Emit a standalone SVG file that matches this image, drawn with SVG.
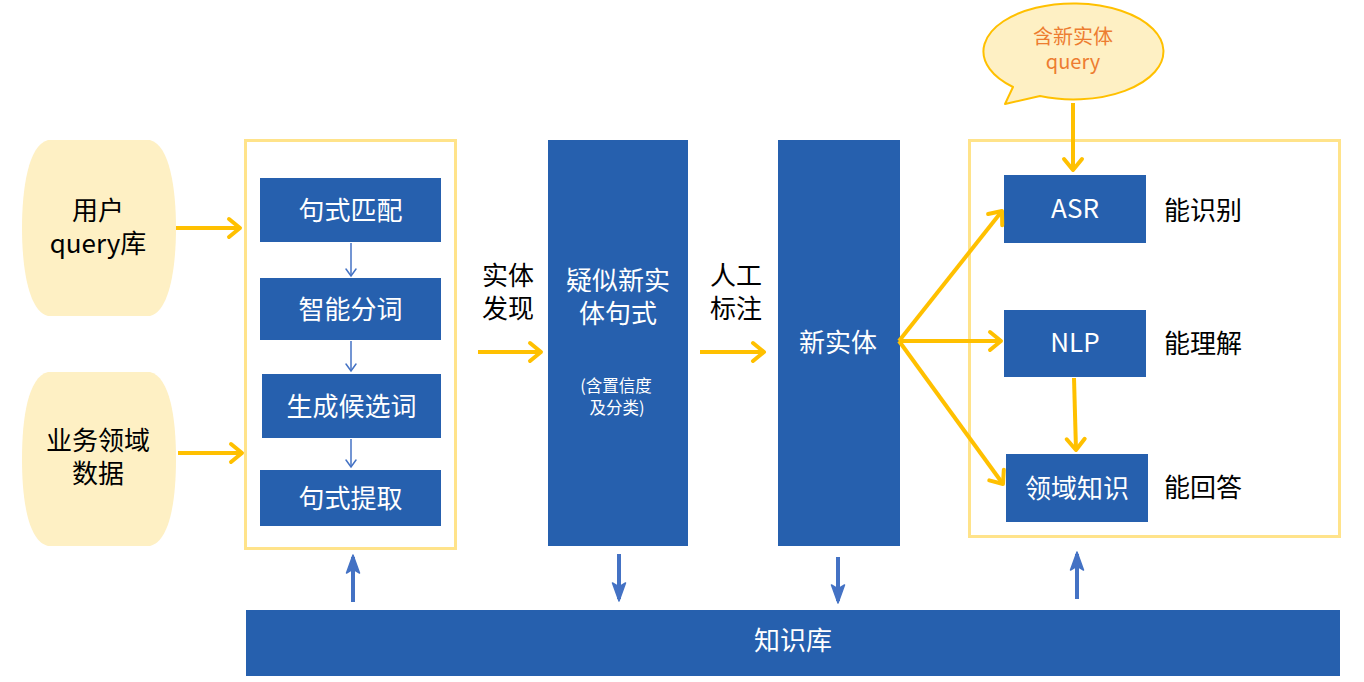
<svg xmlns="http://www.w3.org/2000/svg" width="1364" height="682" viewBox="0 0 1364 682">
<style>
text{font-family:"Noto Sans CJK SC","Noto Sans",sans-serif;text-anchor:middle;}
.blk{fill:#000;font-size:26px;}
.wt{fill:#fff;font-size:26px;}
.sm{fill:#fff;font-size:16.5px;}
.org{fill:#ED7D31;font-size:20px;}
.blue{fill:#2660AE;}
.cyl{fill:#FEF0C4;}
.frame{fill:#fff;stroke:#FFE38A;stroke-width:3;}
.ya{stroke:#FFC000;stroke-width:4;fill:none;marker-end:url(#yh);}
.ba{stroke:#4472C4;stroke-width:1.5;fill:none;marker-end:url(#bh);}
.bb{stroke:#4472C4;stroke-width:4;fill:none;marker-end:url(#bbh);}
</style>
<defs>
<marker id="yh" markerUnits="userSpaceOnUse" viewBox="-14 -12 18 24" markerWidth="18" markerHeight="24" refX="0" refY="0" orient="auto" overflow="visible">
<path d="M-11,-9 L0,0 L-11,9" fill="none" stroke="#FFC000" stroke-width="4" stroke-linecap="round" stroke-linejoin="round"/>
</marker>
<marker id="bh" markerUnits="userSpaceOnUse" viewBox="-10 -8 12 16" markerWidth="12" markerHeight="16" refX="0" refY="0" orient="auto" overflow="visible">
<path d="M-7,-5 L0,0 L-7,5" fill="none" stroke="#4472C4" stroke-width="1.5" stroke-linecap="round"/>
</marker>
<marker id="bbh" markerUnits="userSpaceOnUse" viewBox="-20 -9 24 18" markerWidth="24" markerHeight="18" refX="0" refY="0" orient="auto" overflow="visible">
<path d="M2,0 L-16,-6.5 L-12,0 L-16,6.5 Z" fill="#4472C4" stroke="#4472C4" stroke-width="1.5" stroke-linejoin="round"/>
</marker>
</defs>
<rect width="1364" height="682" fill="#fff"/>

<g id="user-query">
<path class="cyl" d="M48,140 H150 C170,145 176,190 176,228 C176,266 170,311 150,316 H48 C28,311 22,266 22,228 C22,190 28,145 48,140 Z"/>
<text class="blk" x="98" y="220">用户</text>
<text class="blk" x="98" y="253">query库</text>
</g>
<g id="domain-data">
<path class="cyl" d="M48,372 H150 C170,377 176,418 176,459 C176,500 170,541 150,546 H48 C28,541 22,500 22,459 C22,418 28,377 48,372 Z"/>
<text class="blk" x="98" y="450">业务领域</text>
<text class="blk" x="98" y="483">数据</text>
</g>

<g id="pattern-frame">
<rect class="frame" x="245.5" y="140.5" width="210" height="408"/>
</g>
<g id="pattern-match">
<rect class="blue" x="260" y="178" width="181" height="64"/>
<text class="wt" x="350.5" y="220">句式匹配</text>
</g>
<g id="segment">
<rect class="blue" x="260" y="278" width="181" height="62"/>
<text class="wt" x="350.5" y="319">智能分词</text>
</g>
<g id="candidates">
<rect class="blue" x="262" y="374" width="179" height="64"/>
<text class="wt" x="351.5" y="416">生成候选词</text>
</g>
<g id="pattern-extract">
<rect class="blue" x="260" y="470" width="181" height="56"/>
<text class="wt" x="350.5" y="508">句式提取</text>
</g>

<g id="label-discover">
<text class="blk" x="508" y="285">实体</text>
<text class="blk" x="508" y="318">发现</text>
</g>
<g id="suspect">
<rect class="blue" x="548" y="140" width="140" height="406"/>
<text class="wt" x="618" y="290">疑似新实</text>
<text class="wt" x="618" y="323">体句式</text>
<text class="sm" x="616" y="392">(含置信度</text>
<text class="sm" x="617" y="414">及分类)</text>
</g>
<g id="label-annotate">
<text class="blk" x="736" y="285">人工</text>
<text class="blk" x="736" y="318">标注</text>
</g>
<g id="new-entity">
<rect class="blue" x="778" y="140" width="122" height="406"/>
<text class="wt" x="838" y="352">新实体</text>
</g>

<g id="ability-frame">
<rect class="frame" x="969.5" y="140.5" width="370" height="396"/>
</g>
<g id="asr">
<rect class="blue" x="1004" y="175" width="142" height="68"/>
<text class="wt" x="1075" y="218">ASR</text>
</g>
<g id="nlp">
<rect class="blue" x="1004" y="310" width="142" height="67"/>
<text class="wt" x="1075" y="352">NLP</text>
</g>
<g id="domain-knowledge">
<rect class="blue" x="1006" y="454" width="142" height="68"/>
<text class="wt" x="1077" y="498">领域知识</text>
</g>
<g id="labels-right">
<text class="blk" x="1203" y="220">能识别</text>
<text class="blk" x="1203" y="353">能理解</text>
<text class="blk" x="1203" y="497">能回答</text>
</g>

<g id="bubble">
<path d="M1040,96 L1005,104 L1013,87 A90,48 0 1 1 1040,96 Z" fill="#FEF0C4" stroke="#FFC000" stroke-width="2" stroke-linejoin="round"/>
<text class="org" x="1073" y="44">含新实体</text>
<text class="org" x="1073" y="69">query</text>
</g>

<g id="knowledge-base">
<rect class="blue" x="246" y="610" width="1094" height="66"/>
<text class="wt" x="793" y="650">知识库</text>
</g>

<g id="connectors">
<line class="ya" x1="176" y1="228" x2="240" y2="228"/>
<line class="ya" x1="178" y1="453" x2="242" y2="453"/>
<line class="ba" x1="351" y1="243" x2="351" y2="276"/>
<line class="ba" x1="351" y1="341" x2="351" y2="371"/>
<line class="ba" x1="351" y1="439" x2="351" y2="467"/>
<line class="ya" x1="478" y1="352" x2="541" y2="352"/>
<line class="ya" x1="700" y1="352" x2="764" y2="352"/>
<line class="ya" x1="899" y1="341" x2="1002" y2="211"/>
<line class="ya" x1="899" y1="341" x2="1001" y2="341"/>
<line class="ya" x1="899" y1="341" x2="1003" y2="484"/>
<line class="ya" x1="1074" y1="378" x2="1076" y2="450"/>
<line class="ya" x1="1073" y1="103" x2="1073" y2="170"/>
<line class="bb" x1="353" y1="602" x2="353" y2="557"/>
<line class="bb" x1="619" y1="554" x2="619" y2="599"/>
<line class="bb" x1="838" y1="557" x2="838" y2="601"/>
<line class="bb" x1="1077" y1="599" x2="1077" y2="554"/>
</g>
</svg>
